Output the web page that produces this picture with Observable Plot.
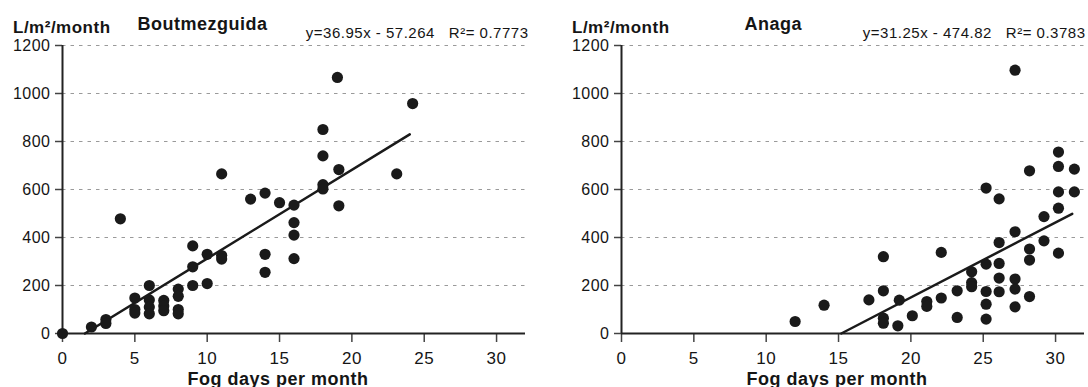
<!DOCTYPE html>
<html><head><meta charset="utf-8">
<script src="https://cdn.jsdelivr.net/npm/d3@7"></script>
<script src="https://cdn.jsdelivr.net/npm/@observablehq/plot@0.6"></script>
<style>
body{margin:0;background:#fff;}
#wrap{display:flex;width:1088px;height:387px;overflow:hidden;}
#wrap svg{overflow:visible;}
</style></head><body><div id="wrap"></div>
<script>
// axis ticks
const ticksX = [0, 5, 10, 15, 20, 25, 30];
const ticksY = [0, 200, 400, 600, 800, 1000, 1200];
const yLabel = "L/m²/month";
const xLabel = "Fog days per month";

// Boutmezguida
const boutTitle = "Boutmezguida";
const boutEq = "y=36.95x - 57.264\u00a0\u00a0\u00a0R²= 0.7773";
const boutX = [0, 2, 3, 3, 4, 5, 5, 5, 6, 6, 6, 6, 7, 7, 7, 8, 8, 8, 8, 9, 9, 9, 10, 10, 11, 11, 11, 13, 14, 14, 14, 15, 16, 16, 16, 16, 19, 24.2, 18, 18, 19.1, 23.1, 18, 18, 19.1];
const boutY = [0, 27, 58, 42, 478, 148, 100, 85, 200, 140, 110, 82, 138, 115, 95, 185, 155, 100, 82, 365, 278, 200, 330, 208, 665, 325, 310, 560, 585, 330, 255, 545, 535, 462, 410, 312, 1067, 958, 850, 740, 683, 665, 620, 602, 532];
const boutFitX = [1.55, 24];
const boutFitY = [0, 829.5];

// Anaga
const anagaTitle = "Anaga";
const anagaEq = "y=31.25x - 474.82\u00a0\u00a0\u00a0R²= 0.3783";
const anagaX = [12, 14, 27.2, 30.2, 30.2, 31.3, 28.2, 25.2, 26.1, 30.2, 31.3, 30.2, 29.2, 27.2, 26.1, 29.2, 28.2, 28.2, 30.2, 18.1, 22.1, 25.2, 26.1, 24.2, 24.2, 24.2, 26.1, 27.2, 27.2, 28.2, 27.2, 25.2, 26.1, 25.2, 25.2, 23.2, 23.2, 22.1, 21.1, 21.1, 20.1, 19.2, 19.1, 18.1, 18.1, 18.1, 17.1];
const anagaY = [50, 118, 1097, 756, 696, 685, 678, 606, 561, 590, 590, 522, 487, 424, 379, 386, 352, 306, 335, 320, 338, 289, 292, 257, 212, 195, 231, 227, 185, 154, 111, 175, 174, 122, 60, 178, 67, 148, 133, 113, 74, 139, 32, 178, 64, 43, 140];
const anagaFitX = [15.19, 31.15];
const anagaFitY = [0, 498.6];

const FONT = '"Liberation Sans", Arial, Helvetica, sans-serif';
const INK = "#1a1a1a";
const TXT = "#151515";

function panel({xs, ys, fx, fy, title, eq, marginLeft, marginRight, titleDx, eqDx}) {
  const pts = xs.map((x, i) => ({x, y: ys[i]}));
  const fit = fx.map((x, i) => ({x, y: fy[i]}));
  return Plot.plot({
    width: 544, height: 387,
    marginLeft, marginRight, marginTop: 45, marginBottom: 54,
    x: {domain: [0, 32]},
    y: {domain: [0, 1200]},
    style: {fontFamily: FONT, color: TXT, background: "white", letterSpacing: "0.5px"},
    marks: [
      Plot.gridY(ticksY.filter(d => d > 0), {stroke: "#9a9a9a", strokeOpacity: 1, strokeDasharray: "3.5,5", strokeWidth: 1}),
      Plot.axisY({ticks: ticksY, tickSize: 7, tickPadding: 5, fontSize: 16, label: null, stroke: "#444", strokeWidth: 1.5, tickFormat: d => String(d)}),
      Plot.axisX({ticks: ticksX, tickSize: 9, tickPadding: 9, fontSize: 17, label: null, stroke: "#444", strokeWidth: 1.5, tickFormat: d => String(d)}),
      Plot.ruleX([0], {stroke: "#222", strokeWidth: 2}),
      Plot.ruleY([0], {stroke: "#222", strokeWidth: 2}),
      Plot.line(fit, {x: "x", y: "y", stroke: INK, strokeWidth: 2.5}),
      Plot.dot(pts, {x: "x", y: "y", r: 5.6, fill: INK, stroke: "none"}),
      Plot.text([yLabel], {text: d => d, frameAnchor: "top-left", textAnchor: "start", lineAnchor: "bottom", dx: -49.5, dy: -12.7, fontSize: 17, fontWeight: "bold", fill: TXT}),
      Plot.text([title], {text: d => d, frameAnchor: "top-left", textAnchor: "start", lineAnchor: "bottom", dx: titleDx, dy: -15.7, fontSize: 18, fontWeight: "bold", fill: TXT}),
      Plot.text([eq], {text: d => d, frameAnchor: "top-right", textAnchor: "end", lineAnchor: "bottom", dx: eqDx, dy: -7.7, fontSize: 15, fill: TXT}),
      Plot.text([xLabel], {text: d => d, frameAnchor: "bottom", textAnchor: "middle", lineAnchor: "bottom", dx: -16, dy: 51, fontSize: 18, fontWeight: "bold", fill: TXT})
    ]
  });
}

const wrap = document.getElementById("wrap");
wrap.appendChild(panel({xs: boutX, ys: boutY, fx: boutFitX, fy: boutFitY, title: boutTitle, eq: boutEq, marginLeft: 62, marginRight: 19, titleDx: 75, eqDx: 3}));
wrap.appendChild(panel({xs: anagaX, ys: anagaY, fx: anagaFitX, fy: anagaFitY, title: anagaTitle, eq: anagaEq, marginLeft: 77, marginRight: 4, titleDx: 123, eqDx: 1}));
</script>
</body></html>
